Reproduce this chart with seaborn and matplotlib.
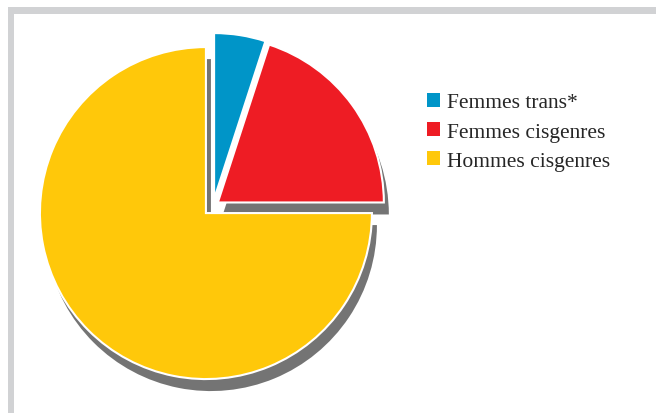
import matplotlib
matplotlib.use("Agg")
import matplotlib.pyplot as plt
import seaborn as sb
from matplotlib.patches import Rectangle

# parts of the pie (percent)
groups = ["Femmes trans*", "Femmes cisgenres", "Hommes cisgenres"]
shares = [5, 20, 75]
colours = ["#0095c8", "#ee1c24", "#ffc80a"]
explode_px = [7, 6, 10]

sb.set_theme(style="white")
plt.rcParams['font.family'] = ['Liberation Serif', 'DejaVu Serif']

W, H = 656, 414
fig = plt.figure(figsize=(W / 100, H / 100), dpi=100)
ax = fig.add_axes([0, 0, 1, 1])

cx, cy, r = 213, H - 207, 166

# drop shadow: same pie, grey, shifted down-right, behind the real one
shade, _ = ax.pie(shares, colors=["#747474"] * 3, explode=explode_px,
                  startangle=90, counterclock=False,
                  center=(cx + 5, cy - 12), radius=r,
                  wedgeprops=dict(edgecolor="none", zorder=0.5))
wedges, _ = ax.pie(shares, colors=colours, explode=explode_px,
                   startangle=90, counterclock=False,
                   center=(cx, cy), radius=r,
                   wedgeprops=dict(edgecolor="white", linewidth=1.5, zorder=1))
ax.set_xlim(0, W)
ax.set_ylim(0, H)
ax.set_aspect("equal")
ax.axis("off")

# no shadow behind the small blue part
shade[0].set_visible(False)

# grey frame at top and left
fig.patches.append(Rectangle((8 / W, 0), 6 / W, 1 - 8 / H, transform=fig.transFigure,
                             facecolor="#d1d2d4", edgecolor="none"))
fig.patches.append(Rectangle((8 / W, 1 - 15 / H), 1, 7 / H, transform=fig.transFigure,
                             facecolor="#d1d2d4", edgecolor="none"))

leg = fig.legend(wedges, groups, loc="upper left",
                 bbox_to_anchor=(427 / W, 1 - 94 / H),
                 frameon=False, fontsize=15.5, borderpad=0,
                 handlelength=0.6, handleheight=0.6, handletextpad=0.35,
                 labelspacing=0.45, borderaxespad=0)
for h in leg.legend_handles:
    h.set_edgecolor("none")

fig.savefig("out.png", dpi=100)
